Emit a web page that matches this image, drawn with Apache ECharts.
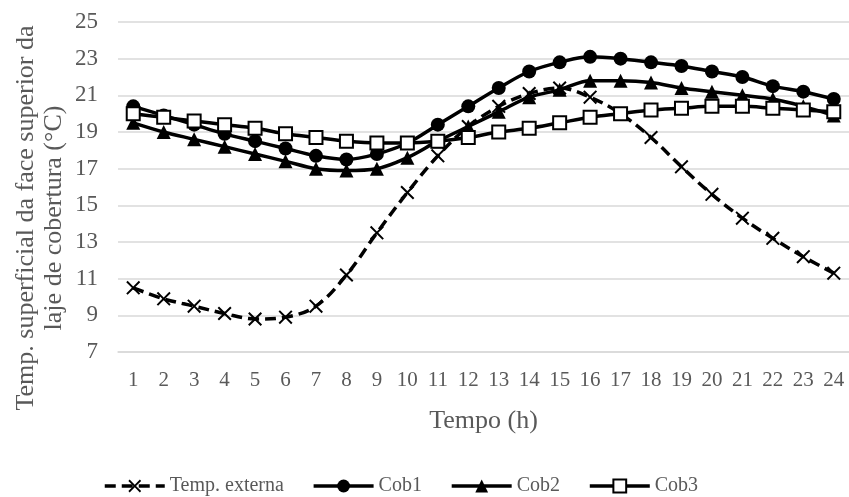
<!DOCTYPE html>
<html>
<head>
<meta charset="utf-8">
<script src="https://cdn.jsdelivr.net/npm/echarts@6/dist/echarts.min.js"></script>
<style>
  html, body { margin: 0; padding: 0; background: #fff; }
  #chart { width: 849px; height: 497px; }
</style>
</head>
<body>
<div id="chart"></div>
<script>
// Hourly surface temperature of the roof slab top face
const hours = ['1','2','3','4','5','6','7','8','9','10','11','12','13','14','15','16','17','18','19','20','21','22','23','24'];
const tempExterna = [10.5, 9.9, 9.5, 9.1, 8.8, 8.9, 9.5, 11.2, 13.5, 15.7, 17.7, 19.3, 20.4, 21.1, 21.4, 20.9, 20.0, 18.7, 17.1, 15.6, 14.3, 13.2, 12.2, 11.3];
const cob1 = [20.4, 19.9, 19.4, 18.9, 18.5, 18.1, 17.7, 17.5, 17.8, 18.4, 19.4, 20.4, 21.4, 22.3, 22.8, 23.1, 23.0, 22.8, 22.6, 22.3, 22.0, 21.5, 21.2, 20.8];
const cob2 = [19.5, 19.0, 18.6, 18.2, 17.8, 17.4, 17.0, 16.9, 17.0, 17.6, 18.5, 19.3, 20.1, 20.9, 21.3, 21.8, 21.8, 21.7, 21.4, 21.2, 21.0, 20.8, 20.4, 19.9];
const cob3 = [20.0, 19.8, 19.6, 19.4, 19.2, 18.9, 18.7, 18.5, 18.4, 18.4, 18.5, 18.7, 19.0, 19.2, 19.5, 19.8, 20.0, 20.2, 20.3, 20.4, 20.4, 20.3, 20.2, 20.1];
const yMin = 7, yMax = 25, yStep = 2;

const FONT = '"Liberation Serif", "Times New Roman", serif';
const TEXT = '#595959';
const GRID = '#d9d9d9';
const crossPath = 'path://M0,1L1,0L5,4L9,0L10,1L6,5L10,9L9,10L5,6L1,10L0,9L4,5Z';

const chart = echarts.init(document.getElementById('chart'), null, { renderer: 'canvas' });

function lineSeries(name, data, symbol, size, extra) {
  return Object.assign({
    name: name,
    type: 'line',
    data: data,
    smooth: 0.35,
    symbol: symbol,
    symbolSize: size,
    showAllSymbol: true,
    lineStyle: { color: '#000', width: 3.5 },
    itemStyle: { color: '#000', borderColor: '#000', borderWidth: 0 },
    emphasis: { disabled: true },
    animation: false
  }, extra || {});
}

chart.setOption({
  backgroundColor: '#fff',
  animation: false,
  grid: { left: 118, right: 0, top: 22, bottom: 145, containLabel: false },
  xAxis: {
    type: 'category',
    data: hours,
    boundaryGap: true,
    axisLine: { show: true, lineStyle: { color: GRID, width: 1.5 } },
    axisTick: { show: false },
    axisLabel: { color: TEXT, fontFamily: FONT, fontSize: 21, margin: 18, interval: 0 },
    name: 'Tempo (h)',
    nameLocation: 'middle',
    nameGap: 56,
    nameTextStyle: { color: TEXT, fontFamily: FONT, fontSize: 26 }
  },
  yAxis: {
    type: 'value',
    min: yMin,
    max: yMax,
    interval: yStep,
    axisLine: { show: false },
    axisTick: { show: false },
    axisLabel: { color: TEXT, fontFamily: FONT, fontSize: 23, margin: 20 },
    splitLine: { lineStyle: { color: GRID, width: 1.5 } }
  },
  graphic: [{
    type: 'text',
    x: 40,
    y: 218,
    rotation: Math.PI / 2,
    style: {
      text: 'Temp. superficial da face superior da\nlaje de cobertura (°C)',
      fill: TEXT,
      font: '26px ' + FONT,
      align: 'center',
      verticalAlign: 'middle',
      lineHeight: 28
    }
  }],
  legend: {
    left: 98,
    top: 471,
    itemWidth: 60,
    itemHeight: 16,
    itemGap: 28,
    lineStyle: { width: 3.5 },
    textStyle: { color: TEXT, fontFamily: FONT, fontSize: 20 },
    data: ['Temp. externa', 'Cob1', 'Cob2', 'Cob3']
  },
  series: [
    lineSeries('Temp. externa', tempExterna, crossPath, 14, {
      lineStyle: { color: '#000', width: 3.5, type: [11, 6] }
    }),
    lineSeries('Cob1', cob1, 'circle', 14),
    lineSeries('Cob2', cob2, 'triangle', 14),
    lineSeries('Cob3', cob3, 'rect', 13, {
      itemStyle: { color: '#fff', borderColor: '#000', borderWidth: 2 }
    })
  ]
});
</script>
</body>
</html>
